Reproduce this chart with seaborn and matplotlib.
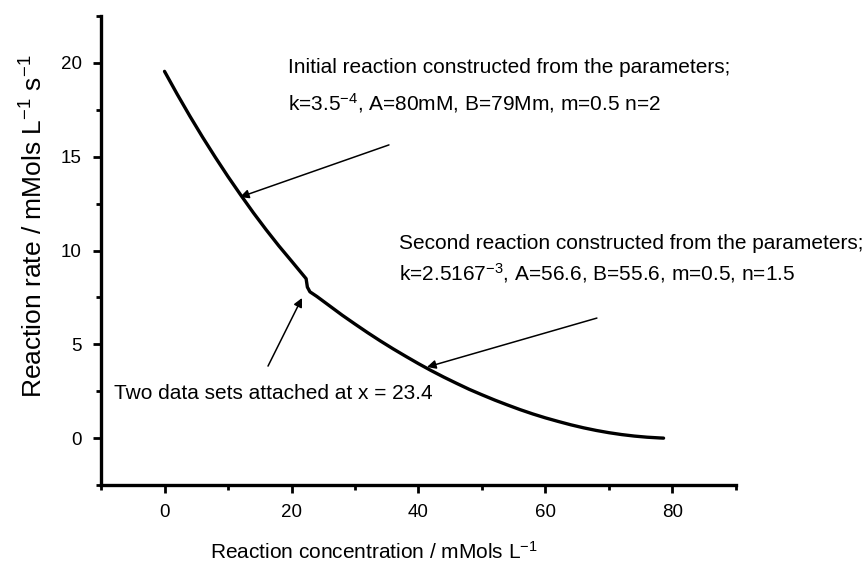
import matplotlib
matplotlib.use("Agg")
import matplotlib.pyplot as plt
import seaborn as sns
import pandas as pd
from matplotlib.ticker import MultipleLocator

# ---- data ----
first_x = [0, 2, 4, 6, 8, 10, 12, 14, 16, 18, 20, 22.3]
first_y = [19.55, 18.33, 17.16, 16.04, 14.97, 13.94, 12.96, 12.01, 11.11, 10.25, 9.44, 8.50]

second_x = [22.5, 22.9, 24, 26, 28, 30, 32, 34, 36, 38, 40, 42, 44, 46, 48, 50,
            52, 54, 56, 58, 60, 62, 64, 66, 68, 70, 72, 74, 76, 78, 78.6]
second_y = [8.05, 7.80, 7.55, 7.05, 6.55, 6.08, 5.62, 5.18, 4.76, 4.36, 3.97, 3.60,
            3.25, 2.92, 2.60, 2.31, 2.03, 1.77, 1.52, 1.29, 1.08, 0.89, 0.71, 0.55,
            0.41, 0.29, 0.19, 0.11, 0.05, 0.01, 0.0]

x_ticks = [0, 20, 40, 60, 80]
y_ticks = [0, 5, 10, 15, 20]

text_initial = ["Initial reaction constructed from the parameters;",
                "k=3.5$^{-4}$, A=80mM, B=79Mm, m=0.5 n=2"]
text_second = ["Second reaction constructed from the parameters;",
               "k=2.5167$^{-3}$, A=56.6, B=55.6, m=0.5, n=1.5"]
text_attach = "Two data sets attached at x = 23.4"

sns.set_theme(style="ticks")
plt.rcParams["font.family"] = ["Liberation Sans", "DejaVu Sans"]
plt.rcParams["mathtext.default"] = "regular"
plt.rcParams["text.color"] = "black"
plt.rcParams["axes.labelcolor"] = "black"

fig = plt.figure(figsize=(8.65, 5.64), dpi=100)
ax = fig.add_axes([0.1168, 0.140, 0.734, 0.8316])

# the two data sets joined into one trace, as in the reference
df = pd.DataFrame({"x": first_x + second_x, "y": first_y + second_y,
                   "set": ["initial"] * len(first_x) + ["second"] * len(second_x)})
sns.lineplot(data=df, x="x", y="y", ax=ax, color="black", lw=2.4,
             estimator=None, sort=False)

ax.set_xlim(-10, 90)
ax.set_ylim(-2.5, 22.5)
ax.set_xticks(x_ticks)
ax.set_yticks(y_ticks)
ax.xaxis.set_minor_locator(MultipleLocator(10))
ax.yaxis.set_minor_locator(MultipleLocator(2.5))
ax.tick_params(which="major", direction="out", length=6, width=2, labelsize=13.5,
               color="black", labelcolor="black", pad=8)
ax.tick_params(which="minor", direction="out", length=3.5, width=2, color="black")

for s in ["top", "right"]:
    ax.spines[s].set_visible(False)
for s in ["left", "bottom"]:
    ax.spines[s].set_linewidth(2.4)
    ax.spines[s].set_color("black")

ax.set_xlabel("Reaction concentration / mMols L$^{-1}$", fontsize=15, color="black")
ax.set_ylabel("Reaction rate / mMols L$^{-1}$ s$^{-1}$", fontsize=19, color="black")
ax.yaxis.label.set_verticalalignment("center")
ax.yaxis.set_label_coords(-0.105, 0.552)
ax.xaxis.set_label_coords(0.43, -0.12)

# annotations
tfs = 15
ax.text(19.45, 19.75, text_initial[0], fontsize=tfs, va="center", ha="left", color="black")
ax.text(19.45, 17.87, text_initial[1], fontsize=tfs, va="center", ha="left", color="black")
ax.text(36.93, 10.4, text_second[0], fontsize=tfs, va="center", ha="left", color="black")
ax.text(36.93, 8.8, text_second[1], fontsize=tfs, va="center", ha="left", color="black")
ax.text(42.3, 2.4, text_attach, fontsize=tfs, va="center", ha="right", color="black")

arrow = dict(arrowstyle="-|>", lw=1.1, color="black", mutation_scale=13,
             shrinkA=0, shrinkB=0)
ax.annotate("", xy=(11.89, 12.85), xytext=(35.35, 15.63), arrowprops=arrow)
ax.annotate("", xy=(41.34, 3.79), xytext=(68.1, 6.4), arrowprops=arrow)
ax.annotate("", xy=(21.65, 7.47), xytext=(16.3, 3.84), arrowprops=arrow)

fig.savefig("out.png", dpi=100)
